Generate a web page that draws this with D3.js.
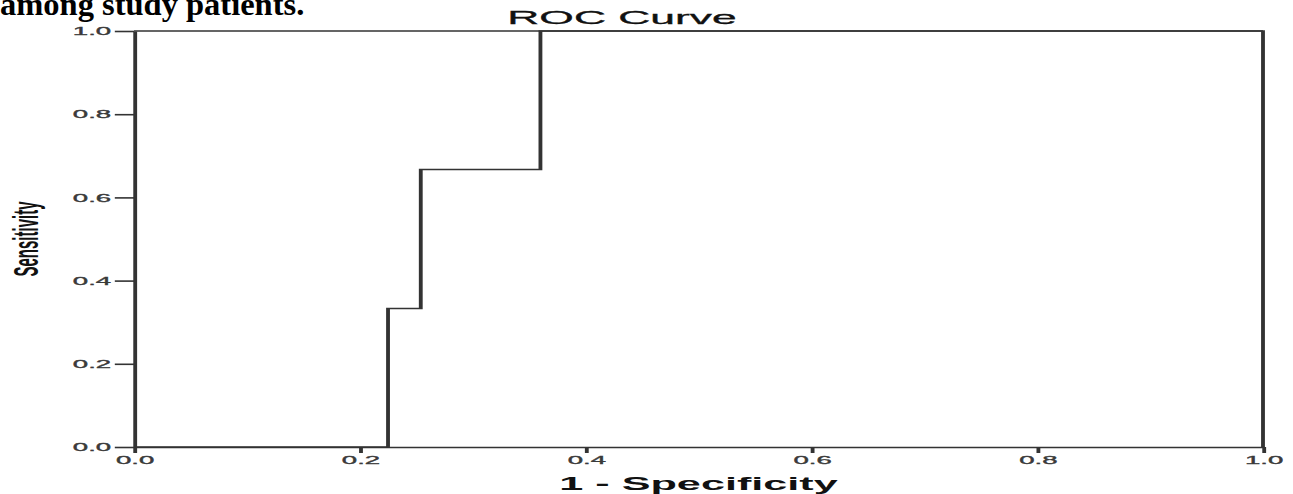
<!DOCTYPE html>
<html><head><meta charset="utf-8">
<script src="https://cdn.jsdelivr.net/npm/d3@7"></script>
<style>
html,body{margin:0;padding:0;background:#fff;}
svg{display:block;}
</style></head>
<body>
<svg id="chart" width="1293" height="494"></svg>
<script>
// ROC curve step points (1 - specificity, sensitivity)
const fpr = [0, 0.225, 0.254, 0.36, 1];
const tpr = [0, 0.333, 0.667, 1, 1];
const tickValues = [0, 0.2, 0.4, 0.6, 0.8, 1.0];
const titleText = "ROC Curve";
const xLabel = "1 - Specificity";
const yLabel = "Sensitivity";
const captionText = "among study patients.";

(function () {
const sx = 2.4; // horizontal stretch of the original picture
const pL = 134, pR = 1263, pT = 31, pB = 447;
const svg = d3.select("#chart");
const FONT = "'Liberation Sans', Arial, sans-serif";
const INK = "#333";

// caption (unstretched, cut at the top edge as in the source)
svg.append("text")
  .attr("x", 0).attr("y", 14.5)
  .attr("font-family", "'Liberation Serif','Times New Roman',serif")
  .attr("font-weight", "bold").attr("font-size", 32.5)
  .attr("fill", "#000")
  .text(captionText);

const g = svg.append("g").attr("transform", `scale(${sx},1)`);
const x = d3.scaleLinear().domain([0, 1]).range([pL / sx, pR / sx]);
const y = d3.scaleLinear().domain([0, 1]).range([pB, pT]);

// frame (top and right)
g.append("path")
  .attr("d", `M${x(0)},${y(1)}H${x(1)}V${y(0)}`)
  .attr("fill", "none").attr("stroke", INK).attr("stroke-width", 1.6);

// axes
const fmt = d3.format(".1f");
const yAxis = g.append("g").attr("transform", `translate(${x(0)},0)`)
  .call(d3.axisLeft(y).tickValues(tickValues).tickFormat(fmt).tickSize(8).tickSizeOuter(0).tickPadding(1.5));
const xAxis = g.append("g").attr("transform", `translate(0,${y(0)})`)
  .call(d3.axisBottom(x).tickValues(tickValues).tickFormat(fmt).tickSize(6).tickSizeOuter(0).tickPadding(3));
[yAxis, xAxis].forEach(a => {
  a.selectAll("path.domain").attr("stroke", INK).attr("stroke-width", 1.6);
  a.selectAll(".tick line").attr("stroke", INK).attr("stroke-width", 1.6);
  a.selectAll(".tick text").attr("font-family", FONT).attr("font-size", 11.5)
    .attr("fill", "#3a3a3a").attr("stroke", "#3a3a3a").attr("stroke-width", 0.35);
});

// ROC curve
const line = d3.line().x((d, i) => x(fpr[i])).y((d, i) => y(tpr[i])).curve(d3.curveStepAfter);
g.append("path")
  .datum(fpr)
  .attr("d", line)
  .attr("fill", "none").attr("stroke", INK).attr("stroke-width", 1.6);

// title
g.append("text")
  .attr("x", 622 / sx).attr("y", 24)
  .attr("text-anchor", "middle")
  .attr("font-family", FONT).attr("font-size", 18.5).attr("fill", "#111")
  .attr("stroke", "#111").attr("stroke-width", 0.3)
  .text(titleText);

// x label
g.append("text")
  .attr("x", (pL + pR) / 2 / sx).attr("y", 490)
  .attr("text-anchor", "middle")
  .attr("font-family", FONT).attr("font-weight", "bold").attr("font-size", 18).attr("fill", "#111")
  .text(xLabel);

// y label
g.append("text")
  .attr("transform", `translate(${38 / sx},${(pT + pB) / 2}) rotate(-90)`)
  .attr("text-anchor", "middle")
  .attr("font-family", FONT).attr("font-weight", "bold").attr("font-size", 15).attr("fill", "#111")
  .text(yLabel);
})();
</script>
</body></html>
